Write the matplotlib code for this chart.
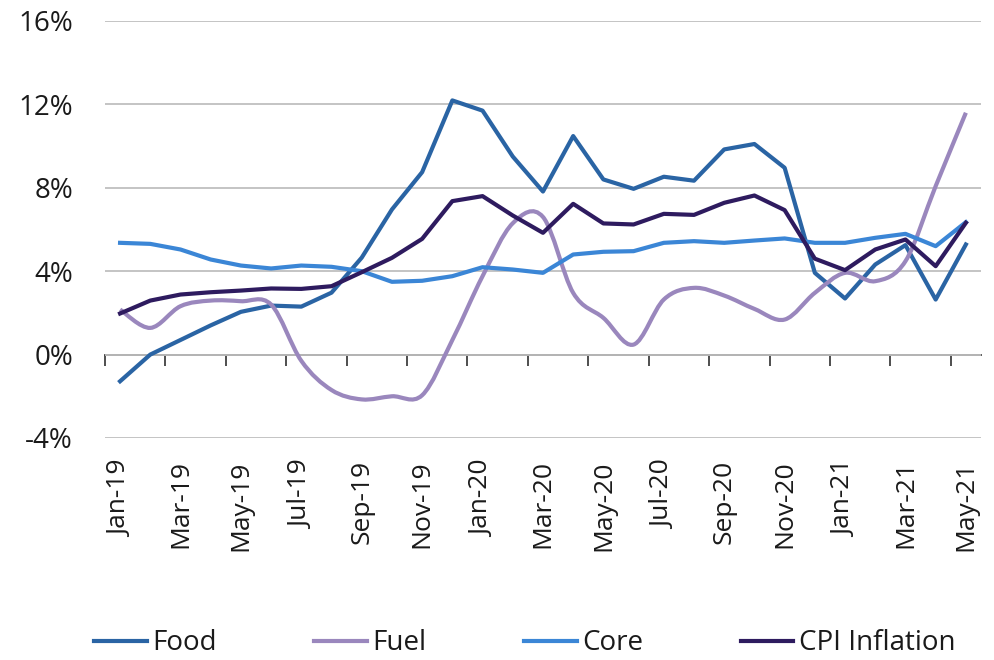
import numpy as np
import matplotlib
matplotlib.use("Agg")
import matplotlib.pyplot as plt
from matplotlib.path import Path
from matplotlib.patches import PathPatch
from matplotlib.lines import Line2D

plt.rcParams['font.family'] = ['Open Sans', 'DejaVu Sans']

months = ['Jan-19', 'Feb-19', 'Mar-19', 'Apr-19', 'May-19', 'Jun-19', 'Jul-19', 'Aug-19',
          'Sep-19', 'Oct-19', 'Nov-19', 'Dec-19', 'Jan-20', 'Feb-20', 'Mar-20', 'Apr-20',
          'May-20', 'Jun-20', 'Jul-20', 'Aug-20', 'Sep-20', 'Oct-20', 'Nov-20', 'Dec-20',
          'Jan-21', 'Feb-21', 'Mar-21', 'Apr-21', 'May-21']

food = [-1.28, 0.0, 0.7, 1.4, 2.05, 2.35, 2.3, 2.97, 4.65, 6.96, 8.75, 12.19, 11.7, 9.5,
        7.82, 10.48, 8.4, 7.95, 8.53, 8.34, 9.84, 10.1, 8.96, 3.92, 2.69, 4.32, 5.25,
        2.64, 5.28]
fuel = [2.16, 1.28, 2.32, 2.59, 2.56, 2.4, -0.3, -1.7, -2.15, -2.0, -1.95, 0.7, 3.76,
        6.3, 6.6, 2.96, 1.76, 0.48, 2.64, 3.2, 2.83, 2.19, 1.68, 2.96, 3.92, 3.52, 4.48,
        8.08, 11.6]
core = [5.36, 5.31, 5.04, 4.56, 4.27, 4.13, 4.27, 4.21, 4.0, 3.49, 3.54, 3.76, 4.19, 4.08,
        3.92, 4.8, 4.93, 4.96, 5.36, 5.44, 5.36, 5.47, 5.57, 5.36, 5.36, 5.6, 5.79, 5.2,
        6.35]
cpi = [1.97, 2.59, 2.88, 2.99, 3.07, 3.17, 3.15, 3.28, 3.95, 4.64, 5.55, 7.36, 7.6, 6.67,
       5.84, 7.23, 6.29, 6.24, 6.75, 6.7, 7.28, 7.63, 6.93, 4.6, 4.05, 5.04, 5.52, 4.24,
       6.32]

C_FOOD = '#2a64a4'
C_FUEL = '#9a87bd'
C_CORE = '#3b86d6'
C_CPI = '#2e1b5f'
LW = 3.0


def smooth_path(xs, ys):
    # bezier curve through the points, like a "smoothed line" in a spreadsheet chart
    pts = np.column_stack([xs, ys]).astype(float)
    n = len(pts)
    verts = [pts[0]]
    codes = [Path.MOVETO]
    for i in range(n - 1):
        p0 = pts[max(i - 1, 0)]
        p1 = pts[i]
        p2 = pts[i + 1]
        p3 = pts[min(i + 2, n - 1)]
        c1 = p1 + (p2 - p0) / 6.0
        c2 = p2 - (p3 - p1) / 6.0
        verts += [c1, c2, p2]
        codes += [Path.CURVE4] * 3
    return Path(verts, codes)


fig = plt.figure(figsize=(9.94, 6.6), dpi=100)
ax = fig.add_axes([0.1056, 0.3364, 0.8813, 0.6318])

x = np.arange(len(months))
ax.set_xlim(-0.5, len(months) - 0.5)
ax.set_ylim(-4, 16)

ax.set_yticks(np.arange(-4, 17, 4))
ax.set_yticklabels([f'{v}%' for v in range(-4, 17, 4)])
ax.grid(axis='y', color='#bfbfbf', linewidth=1.3)
ax.set_axisbelow(True)
for s in ax.spines.values():
    s.set_visible(False)

ax.set_xticks(x[::2])
ax.set_xticklabels(months[::2], rotation=90, va='top', ha='center')
ax.tick_params(axis='x', length=0, pad=16, labelsize=19, labelcolor='#1a1a1a')
ax.tick_params(axis='y', length=0, pad=23, labelsize=20, labelcolor='#1a1a1a')

# horizontal category axis sitting at zero, with ticks between every second month
sec = ax.secondary_xaxis(0.2)
sec.set_xticks(np.arange(-0.5, len(months) - 0.5, 2))
sec.set_xticklabels([])
sec.spines['bottom'].set_color('#404040')
sec.spines['bottom'].set_linewidth(1.3)
sec.tick_params(axis='x', direction='out', length=8, width=1.3, color='#404040')

ax.plot(x, food, color=C_FOOD, lw=LW, solid_joinstyle='round', zorder=3)
ax.add_patch(PathPatch(smooth_path(x, fuel), facecolor='none', edgecolor=C_FUEL,
                       lw=LW, zorder=3))
ax.plot(x, core, color=C_CORE, lw=LW, solid_joinstyle='round', zorder=3)
ax.plot(x, cpi, color=C_CPI, lw=LW, solid_joinstyle='round', zorder=4)

handles = [Line2D([], [], color=c, lw=LW) for c in (C_FOOD, C_FUEL, C_CORE, C_CPI)]
fig.legend(handles, ['Food', 'Fuel', 'Core', 'CPI Inflation'], loc='center',
           bbox_to_anchor=(0.528, 0.025), ncol=4, frameon=False, fontsize=20,
           handlelength=1.9, handletextpad=0.2, columnspacing=3.5,
           borderpad=0.2, labelcolor='#1a1a1a')

fig.savefig('out.png', dpi=100)
